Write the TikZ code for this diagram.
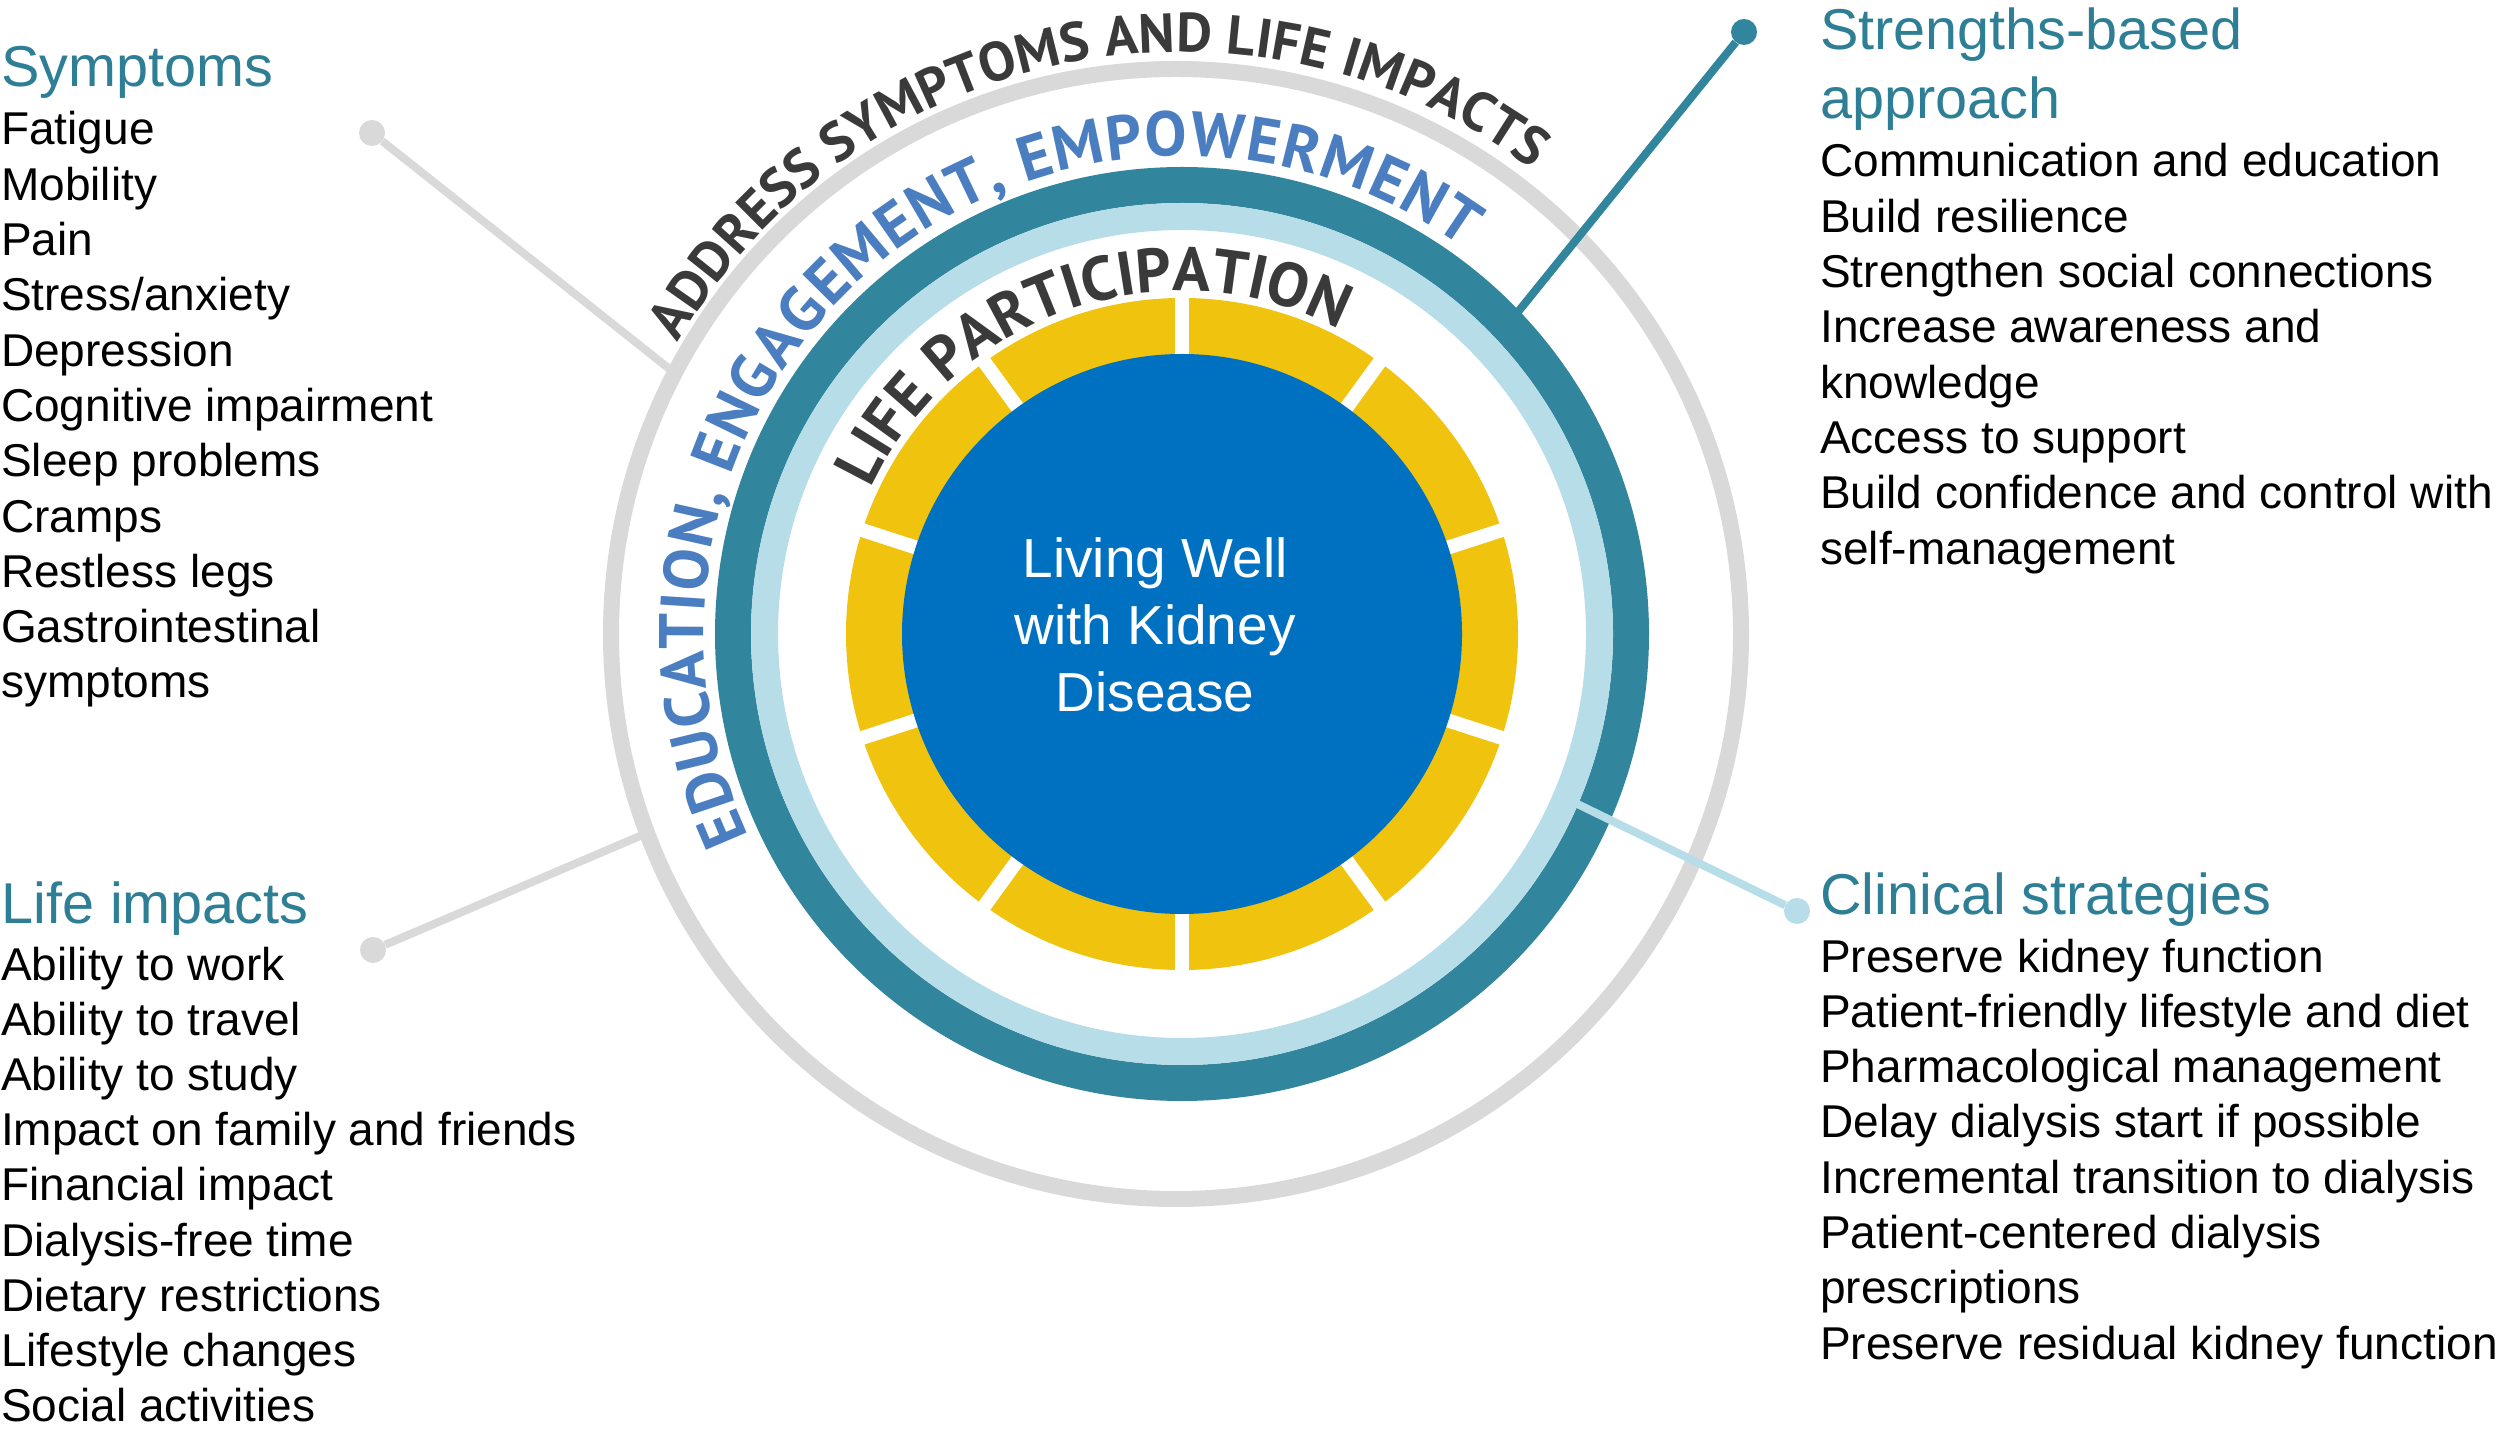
\documentclass[tikz,border=0pt]{standalone}
\usepackage{fontspec}
\setmainfont{Liberation Sans}
\newfontfamily\arcfam{PT Sans}
\usetikzlibrary{decorations.text}
\definecolor{ringgray}{HTML}{D9D9D9}
\definecolor{ringteal}{HTML}{31859C}
\definecolor{ringlight}{HTML}{B7DDE8}
\definecolor{ringyellow}{HTML}{F0C30F}
\definecolor{coreblue}{HTML}{0070C0}
\definecolor{arcdark}{HTML}{3A3A3A}
\definecolor{arcblue}{HTML}{4A7EC0}
\definecolor{headteal}{HTML}{2E7F96}
\newcommand\arcA{\arcfam\bfseries\fontsize{55}{55}\selectfont}
\newcommand\arcB{\arcfam\bfseries\fontsize{63}{63}\selectfont}
\newcommand\arcC{\arcfam\bfseries\fontsize{62}{62}\selectfont}
\tikzset{
  listitem/.style={anchor=base west, inner sep=0pt, font=\fontsize{46}{55}\selectfont, text=black},
  listhead/.style={anchor=base west, inner sep=0pt, font=\fontsize{57.6}{69}\selectfont, text=headteal},
  dotnode/.style={circle, inner sep=0pt, minimum size=26pt, fill=#1},
  conn/.style={line width=8pt, draw=#1},
}
\begin{document}
\begin{tikzpicture}[x=1pt,y=1pt]
\useasboundingbox (0,0) rectangle (2499,1428);
\fill[white] (0,0) rectangle (2499,1428);
% rings
\draw[ringgray, line width=16pt] (1176,794) circle[radius=565pt];
\begin{scope}[shift={(1182,794)}]
  \draw[ringteal, line width=36pt] (0,0) circle[radius=449pt];
  \draw[ringlight, line width=27pt] (0,0) circle[radius=417.5pt];
  \fill[ringyellow] (0,0) circle[radius=336pt];
  \foreach \a in {90,126,...,414}
    \draw[white, line width=14pt] (\a:260pt) -- (\a:350pt);
  \node[circle, fill=coreblue, minimum size=560pt, inner sep=0pt] (core) at (0,0) {};
  % arc texts
  \path[decorate, decoration={text along path, text={|\arcA|ADDRESS SYMPTOMS AND LIFE IMPACTS}, text align={fit to path}, text color=arcdark}]
    (150:582pt) arc[start angle=150, end angle=53, radius=582pt];
  \path[decorate, decoration={text along path, text={|\arcB|EDUCATION, ENGAGEMENT, EMPOWERMENT}, text align={fit to path}, text color=arcblue}]
    (205:478pt) arc[start angle=205, end angle=54, radius=478pt];
  \path[decorate, decoration={text along path, text={|\arcC|LIFE PARTICIPATION}, text align={fit to path}, text color=arcdark}]
    (155:343pt) arc[start angle=155, end angle=64, radius=343pt];
\end{scope}
\node[font=\fontsize{55}{67}\selectfont, text=white, align=center] (corelabel) at (1155,803) {Living Well\\with Kidney\\Disease};

% connectors
\coordinate (symring) at (672,1057);
\coordinate (lifering) at (640,592);
\coordinate (strring) at (1505,1100);
\coordinate (clinring) at (1563,631);
\node[dotnode=ringgray] (symdot) at (372,1295) {};
\node[dotnode=ringgray] (lifedot) at (373,478) {};
\node[dotnode=ringteal] (strdot) at (1744,1396) {};
\node[dotnode=ringlight] (clindot) at (1797,517) {};
\draw[conn=ringgray] (symring) -- (symdot);
\draw[conn=ringgray] (lifering) -- (lifedot);
\draw[conn=ringteal] (strring) -- (strdot);
\draw[conn=ringlight] (clinring) -- (clindot);

% left lists
\node[listhead] (symhead) at (1,1341) {Symptoms};
\foreach \t [count=\i from 0] in {Fatigue,Mobility,Pain,Stress/anxiety,Depression,Cognitive impairment,Sleep problems,Cramps,Restless legs,Gastrointestinal,symptoms}
  \node[listitem] (sym\i) at (1,{1283-55.3*\i}) {\t};
\node[listhead] (lifehead) at (1,504) {Life impacts};
\foreach \t [count=\i from 0] in {Ability to work,Ability to travel,Ability to study,Impact on family and friends,Financial impact,Dialysis-free time,Dietary restrictions,Lifestyle changes,Social activities}
  \node[listitem] (life\i) at (1,{448-55.2*\i}) {\t};

% right lists
\node[listhead] (strhead) at (1820,1378) {Strengths-based};
\node[listhead] (strhead2) at (1820,1309) {approach};
\foreach \t [count=\i from 0] in {Communication and education,Build resilience,Strengthen social connections,Increase awareness and,knowledge,Access to support,Build confidence and control with,self-management}
  \node[listitem] (str\i) at (1820,{1251-55.3*\i}) {\t};
\node[listhead] (clinhead) at (1820,514) {Clinical strategies};
\foreach \t [count=\i from 0] in {Preserve kidney function,Patient-friendly lifestyle and diet,Pharmacological management,Delay dialysis start if possible,Incremental transition to dialysis,Patient-centered dialysis,prescriptions,Preserve residual kidney function}
  \node[listitem] (clin\i) at (1820,{456-55.3*\i}) {\t};
\end{tikzpicture}
\end{document}
